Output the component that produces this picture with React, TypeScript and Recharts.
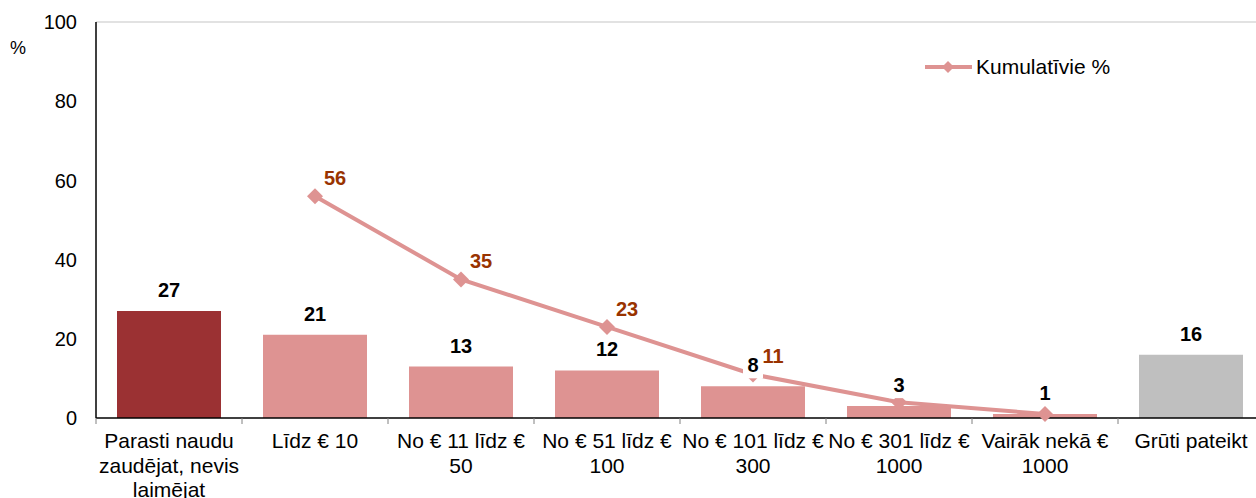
import { Bar, Cell, ComposedChart, LabelList, Line, ReferenceLine, XAxis, YAxis } from "recharts"

const categories = [
  "Parasti naudu\nzaudējat, nevis\nlaimējat",
  "Līdz € 10",
  "No € 11 līdz €\n50",
  "No € 51 līdz €\n100",
  "No € 101 līdz €\n300",
  "No € 301 līdz €\n1000",
  "Vairāk nekā €\n1000",
  "Grūti pateikt",
]
const barValues = [27, 21, 13, 12, 8, 3, 1, 16]
const cumulativeValues = [null, 56, 35, 23, 11, 4, 1, null]
const cumulativeLabels = [null, "56", "35", "23", "11", null, null, null]
const barColors = ["#9B3133", "#DE9392", "#DE9392", "#DE9392", "#DE9392", "#DE9392", "#DE9392", "#BFBFBF"]
const yTicks = [0, 20, 40, 60, 80, 100]

const data = categories.map((name, i) => ({
  name,
  value: barValues[i],
  cum: cumulativeValues[i],
  cumLabel: cumulativeLabels[i],
}))

const FONT = "'Liberation Sans', Arial, sans-serif"
const LINE_COLOR = "#DE9392"
const CHART_W = 1264
const PLOT_LEFT = 96
const BAND = (CHART_W - PLOT_LEFT) / categories.length

function CategoryTick(props: any) {
  const { x, y, payload, index } = props
  const lines = String(payload.value).split("\n")
  const axisY = y - 8
  return (
    <g>
      <line x1={x - BAND / 2} x2={x - BAND / 2} y1={axisY} y2={axisY + 6} stroke="#808080" />
      {index === categories.length - 1 && (
        <line x1={x + BAND / 2} x2={x + BAND / 2} y1={axisY} y2={axisY + 6} stroke="#808080" />
      )}
      <text textAnchor="middle" fontSize={21} fontFamily={FONT} fill="#000">
        {lines.map((l, i) => (
          <tspan key={i} x={x} y={axisY + 30 + i * 24.5}>
            {l}
          </tspan>
        ))}
      </text>
    </g>
  )
}

function Diamond(props: any) {
  const { cx, cy, value } = props
  if (value == null || cx == null || cy == null) return <g />
  const r = 8
  return <polygon points={`${cx},${cy - r} ${cx + r},${cy} ${cx},${cy + r} ${cx - r},${cy}`} fill={LINE_COLOR} />
}

function CumLabel(props: any) {
  const { x, y, value } = props
  if (value == null) return <g />
  return (
    <text x={x + 20} y={y - 11} textAnchor="middle" fontSize={20} fontWeight="bold" fontFamily={FONT} fill="#993300">
      {value}
    </text>
  )
}

function BarLabel(props: any) {
  const { x, y, value } = props
  if (value == null) return <g />
  const w = String(value).length * 12 + 8
  return (
    <g>
      <rect x={x - w / 2} y={y - 33} width={w} height={25} fill="#fff" />
      <text x={x} y={y - 14} textAnchor="middle" fontSize={20} fontWeight="bold" fontFamily={FONT} fill="#000">
        {value}
      </text>
    </g>
  )
}

export default function App() {
  return (
    <div style={{ position: "absolute", left: 0, top: 0, width: 1256, height: 498, overflow: "hidden", background: "#fff" }}>
      <ComposedChart width={CHART_W} height={498} data={data} margin={{ top: 22, right: 0, left: 0, bottom: 0 }}>
        <ReferenceLine y={100} stroke="#D9D9D9" strokeWidth={1.5} />
        <XAxis
          dataKey="name"
          interval={0}
          height={80}
          axisLine={{ stroke: "#000", strokeWidth: 1.5 }}
          tickLine={false}
          tick={<CategoryTick />}
        />
        <YAxis
          width={PLOT_LEFT}
          domain={[0, 100]}
          ticks={yTicks}
          axisLine={{ stroke: "#000", strokeWidth: 1.5 }}
          tickLine={false}
          tickMargin={13}
          tick={{ fontSize: 20, fontFamily: FONT, fill: "#000" }}
          label={{
            content: () => (
              <text x={18} y={54} textAnchor="middle" fontSize={18} fontFamily={FONT} fill="#000">
                %
              </text>
            ),
          }}
        />
        <Bar dataKey="value" barSize={104} isAnimationActive={false} legendType="none">
          {data.map((_, i) => (
            <Cell key={i} fill={barColors[i]} />
          ))}
        </Bar>
        <Line
          dataKey="cum"
          stroke={LINE_COLOR}
          strokeWidth={4}
          dot={<Diamond />}
          activeDot={false}
          isAnimationActive={false}
          connectNulls={false}
        >
          <LabelList dataKey="cumLabel" content={<CumLabel />} />
        </Line>
        <Line dataKey="value" stroke="none" dot={false} activeDot={false} isAnimationActive={false} legendType="none">
          <LabelList dataKey="value" content={<BarLabel />} />
        </Line>
      </ComposedChart>
      <svg width={200} height={30} style={{ position: "absolute", left: 925, top: 55 }}>
        <line x1={0} x2={47} y1={12} y2={12} stroke={LINE_COLOR} strokeWidth={4} />
        <polygon points="23,6 29,12 23,18 17,12" fill={LINE_COLOR} />
        <text x={51} y={19} fontSize={21} fontFamily={FONT} fill="#000">
          Kumulatīvie %
        </text>
      </svg>
    </div>
  )
}
